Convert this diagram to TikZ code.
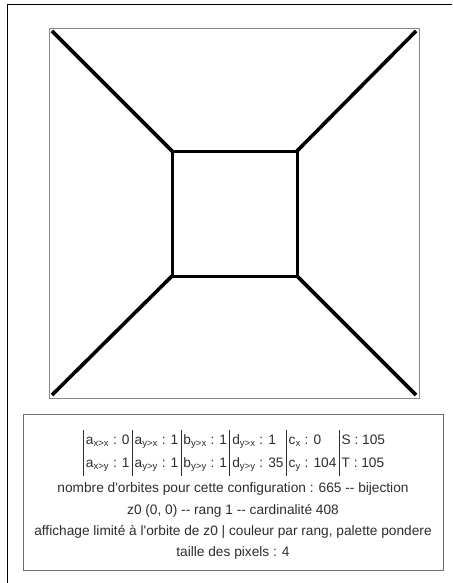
\documentclass[tikz,border=0pt]{standalone}
\usepackage{fontspec}
\setmainfont{Liberation Sans}[Ligatures=TeXOff]
\usepackage{xcolor}
\usetikzlibrary{calc}
\definecolor{infotext}{RGB}{45,45,45}
\definecolor{framegray}{RGB}{135,135,135}
\definecolor{boxgray}{RGB}{110,110,110}

\newcommand{\colbar}{\vrule height 14.5pt depth 8.5pt width 0.9pt\hspace{2pt}}
\newcommand{\idx}[1]{\textsubscript{#1}}

\begin{document}
\begin{tikzpicture}[x=1pt, y=-1pt]

\useasboundingbox (0,0) rectangle (452,583);
\draw[black, line width=0.8pt] (7,583) -- (7,4) -- (452,4);

% plot
\draw[framegray, line width=0.9pt] (49,28) rectangle (419,398);
\coordinate (ptl) at (52,31);  \coordinate (ptr) at (416,31);
\coordinate (pbl) at (52,395); \coordinate (pbr) at (416,395);
\coordinate (stl) at (172,151); \coordinate (str) at (297,151);
\coordinate (sbl) at (172,276); \coordinate (sbr) at (297,276);
\draw[black, line width=3.6pt] (ptl) -- (stl);
\draw[black, line width=3.6pt] (ptr) -- (str);
\draw[black, line width=3.6pt] (pbl) -- (sbl);
\draw[black, line width=3.6pt] (pbr) -- (sbr);
\draw[black, line width=3pt] (stl) -- (str) -- (sbr) -- (sbl) -- cycle;

% info box
\draw[boxgray, line width=0.9pt] (23,414) rectangle (443,570);
\node[infotext, font=\fontsize{13.7}{16}\selectfont, inner sep=0pt] (grid) at (234,453) {%
  \begin{tabular}{@{}l@{}l@{}l@{}l@{}l@{}l@{}}
    \colbar a\idx{x>x} : 0\, & \colbar a\idx{y>x} : 1\, & \colbar b\idx{y>x} : 1\, & \colbar d\idx{y>x} : 1\, & \colbar c\idx{x} : 0\, & \colbar S : 105 \\[2pt]
    \colbar a\idx{x>y} : 1\, & \colbar a\idx{y>y} : 1\, & \colbar b\idx{y>y} : 1\, & \colbar d\idx{y>y} : 35\, & \colbar c\idx{y} : 104\, & \colbar T : 105
  \end{tabular}};
\node[infotext, font=\fontsize{13.7}{16}\selectfont] (nbr) at (233,489) {nombre d'orbites pour cette configuration : 665 -- bijection};
\node[infotext, font=\fontsize{13.7}{16}\selectfont] (zo) at (233,511) {z0 (0, 0) -- rang 1 -- cardinalité 408};
\node[infotext, font=\fontsize{13.7}{16}\selectfont] (aff) at (233,532) {affichage limité à l'orbite de z0 | couleur par rang, palette pondere};
\node[infotext, font=\fontsize{13.7}{16}\selectfont] (tp) at (233,553) {taille des pixels : 4};

\end{tikzpicture}
\end{document}
